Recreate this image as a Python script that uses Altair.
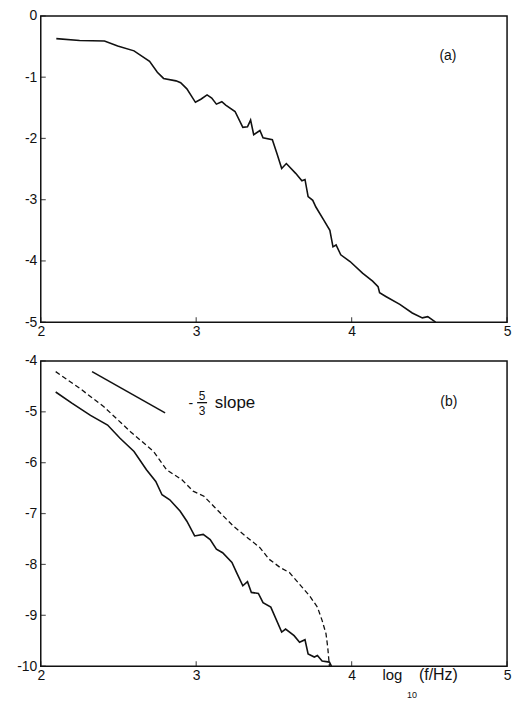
import altair as alt
import pandas as pd

FONT = "Liberation Sans"
INK = "#111111"

# ---------------- data ----------------
# panel (a)
xa = [2.10, 2.25, 2.41, 2.495, 2.60, 2.70, 2.75, 2.79, 2.87, 2.90, 2.94, 2.995,
      3.03, 3.07, 3.10, 3.13, 3.165, 3.19, 3.25, 3.30, 3.33, 3.35, 3.37, 3.41,
      3.43, 3.49, 3.52, 3.55, 3.58, 3.64, 3.68, 3.70, 3.72, 3.75, 3.77, 3.82,
      3.86, 3.88, 3.90, 3.93, 3.99, 4.07, 4.135, 4.17, 4.18, 4.22, 4.31, 4.39,
      4.455, 4.49, 4.54]
ya = [-0.37, -0.40, -0.41, -0.49, -0.57, -0.74, -0.92, -1.02, -1.06, -1.09,
      -1.19, -1.41, -1.36, -1.29, -1.34, -1.44, -1.40, -1.455, -1.56, -1.82,
      -1.81, -1.70, -1.94, -1.87, -1.99, -2.02, -2.25, -2.49, -2.41, -2.57,
      -2.69, -2.67, -2.95, -3.01, -3.12, -3.33, -3.50, -3.77, -3.74, -3.90,
      -4.01, -4.20, -4.33, -4.42, -4.52, -4.58, -4.71, -4.85, -4.93, -4.91,
      -5.0]

# panel (b) solid curve
xb_solid = [2.096, 2.20, 2.32, 2.43, 2.51, 2.60, 2.68, 2.74, 2.78, 2.83, 2.896,
            2.94, 2.99, 3.045, 3.09, 3.13, 3.17, 3.23, 3.26, 3.30, 3.33, 3.355,
            3.40, 3.43, 3.48, 3.55, 3.575, 3.63, 3.665, 3.70, 3.72, 3.76, 3.78,
            3.81, 3.857, 3.87]
yb_solid = [-4.61, -4.83, -5.07, -5.26, -5.52, -5.78, -6.14, -6.37, -6.63,
            -6.73, -6.95, -7.15, -7.44, -7.41, -7.51, -7.70, -7.77, -7.96,
            -8.16, -8.42, -8.34, -8.55, -8.57, -8.75, -8.84, -9.33, -9.27,
            -9.40, -9.53, -9.48, -9.76, -9.82, -9.79, -9.90, -9.92, -10.0]

# panel (b) dashed curve
xb_dash = [2.096, 2.256, 2.406, 2.577, 2.726, 2.81, 2.91, 2.98, 3.05, 3.12,
           3.24, 3.32, 3.41, 3.47, 3.54, 3.60, 3.665, 3.73, 3.78, 3.81, 3.835,
           3.846, 3.857]
yb_dash = [-4.21, -4.55, -4.90, -5.39, -5.78, -6.14, -6.34, -6.56, -6.66,
           -6.88, -7.25, -7.45, -7.67, -7.90, -8.06, -8.16, -8.39, -8.62,
           -8.84, -9.10, -9.36, -9.62, -10.0]

# -5/3 reference slope segment
slope_x = [2.33, 2.80]
slope_y = [-4.21, -5.02]

# tick values
x_tick_values = [2, 3, 4, 5]
ya_tick_values = [0, -1, -2, -3, -4, -5]
yb_tick_values = [-4, -5, -6, -7, -8, -9, -10]

# ---------------- layout ----------------
W = 469
HA = 308
HB = 307

xscale = alt.Scale(domain=[2, 5], nice=False, zero=False)
ya_scale = alt.Scale(domain=[-5, 0], nice=False, zero=False)
yb_scale = alt.Scale(domain=[-10, -4], nice=False, zero=False)


def x_axis():
    return alt.Axis(values=x_tick_values, labelExpr="'' + datum.value",
                    ticks=False, tickSize=0, domain=False, grid=False,
                    labelFlush=False, labelPadding=2, labelFont=FONT,
                    labelFontSize=14, labelColor=INK, title=None,
                    labelOverlap=False)


def y_axis(vals):
    return alt.Axis(values=vals, labelExpr="'' + datum.value",
                    ticks=False, tickSize=0, domain=False, grid=False,
                    labelPadding=4, labelFont=FONT, labelFontSize=14,
                    labelColor=INK, title=None, labelOverlap=False,
                    minExtent=35, maxExtent=35)


def x_ticks(h):
    return alt.Chart(pd.DataFrame({"x": x_tick_values})).mark_tick(
        orient="vertical", size=5, thickness=1.2, color=INK
    ).encode(x=alt.X("x:Q", scale=xscale), y=alt.value(h - 2.5))


def y_ticks(vals, yscale):
    return alt.Chart(pd.DataFrame({"y": vals})).mark_tick(
        orient="horizontal", size=5, thickness=1.2, color=INK
    ).encode(y=alt.Y("y:Q", scale=yscale), x=alt.value(2.5))


def text_layer(xs, ys, texts, yscale, size, align="center", baseline="middle"):
    df = pd.DataFrame({"x": xs, "y": ys, "t": texts})
    return alt.Chart(df).mark_text(
        font=FONT, fontSize=size, color=INK, align=align, baseline=baseline
    ).encode(x=alt.X("x:Q", scale=xscale),
             y=alt.Y("y:Q", scale=yscale),
             text="t:N")


# ---- panel (a)
line_a = alt.Chart(pd.DataFrame({"x": xa, "y": ya})).mark_line(
    color=INK, strokeWidth=1.6, clip=True
).encode(x=alt.X("x:Q", scale=xscale, axis=x_axis()),
         y=alt.Y("y:Q", scale=ya_scale, axis=y_axis(ya_tick_values)))

panel_a = alt.layer(
    line_a,
    x_ticks(HA),
    y_ticks(ya_tick_values, ya_scale),
    text_layer([4.62], [-0.655], ["(a)"], ya_scale, 14),
).properties(width=W, height=HA)

# ---- panel (b)
solid_b = alt.Chart(pd.DataFrame({"x": xb_solid, "y": yb_solid})).mark_line(
    color=INK, strokeWidth=1.6, clip=True
).encode(x=alt.X("x:Q", scale=xscale, axis=x_axis()),
         y=alt.Y("y:Q", scale=yb_scale, axis=y_axis(yb_tick_values)))

dash_b = alt.Chart(pd.DataFrame({"x": xb_dash, "y": yb_dash})).mark_line(
    color=INK, strokeWidth=1.3, strokeDash=[5, 3], clip=True
).encode(x=alt.X("x:Q", scale=xscale),
         y=alt.Y("y:Q", scale=yb_scale))

slope_b = alt.Chart(pd.DataFrame({"x": slope_x, "y": slope_y})).mark_line(
    color=INK, strokeWidth=1.6
).encode(x=alt.X("x:Q", scale=xscale),
         y=alt.Y("y:Q", scale=yb_scale))

frac_bar = alt.Chart(pd.DataFrame({"x": [3.006], "x2": [3.07], "y": [-4.82]})).mark_rule(
    color=INK, strokeWidth=1.3
).encode(x=alt.X("x:Q", scale=xscale), x2="x2:Q",
         y=alt.Y("y:Q", scale=yb_scale))

panel_b = alt.layer(
    solid_b,
    dash_b,
    slope_b,
    frac_bar,
    x_ticks(HB),
    y_ticks(yb_tick_values, yb_scale),
    text_layer([4.625], [-4.81], ["(b)"], yb_scale, 14),
    text_layer([2.965], [-4.84], ["-"], yb_scale, 14),
    text_layer([3.038, 3.038], [-4.775, -5.068], ["5", "3"], yb_scale, 12,
               baseline="alphabetic"),
    text_layer([3.12], [-4.918], ["slope"], yb_scale, 17, align="left",
               baseline="alphabetic"),
    text_layer([4.198], [-10.275], ["log"], yb_scale, 15, align="left",
               baseline="alphabetic"),
    text_layer([4.433], [-10.275], ["(f/Hz)"], yb_scale, 16, align="left",
               baseline="alphabetic"),
    text_layer([4.356], [-10.62], ["10"], yb_scale, 9, align="left",
               baseline="alphabetic"),
).properties(width=W, height=HB)

chart = alt.vconcat(panel_a, panel_b, spacing=39, bounds="flush").configure_view(
    stroke=INK, strokeWidth=1.5
).properties(
    background="white",
    padding={"left": 5, "top": 6, "right": 5, "bottom": 0},
)

chart.save("out.html", embed_options={"renderer": "svg", "actions": False})
